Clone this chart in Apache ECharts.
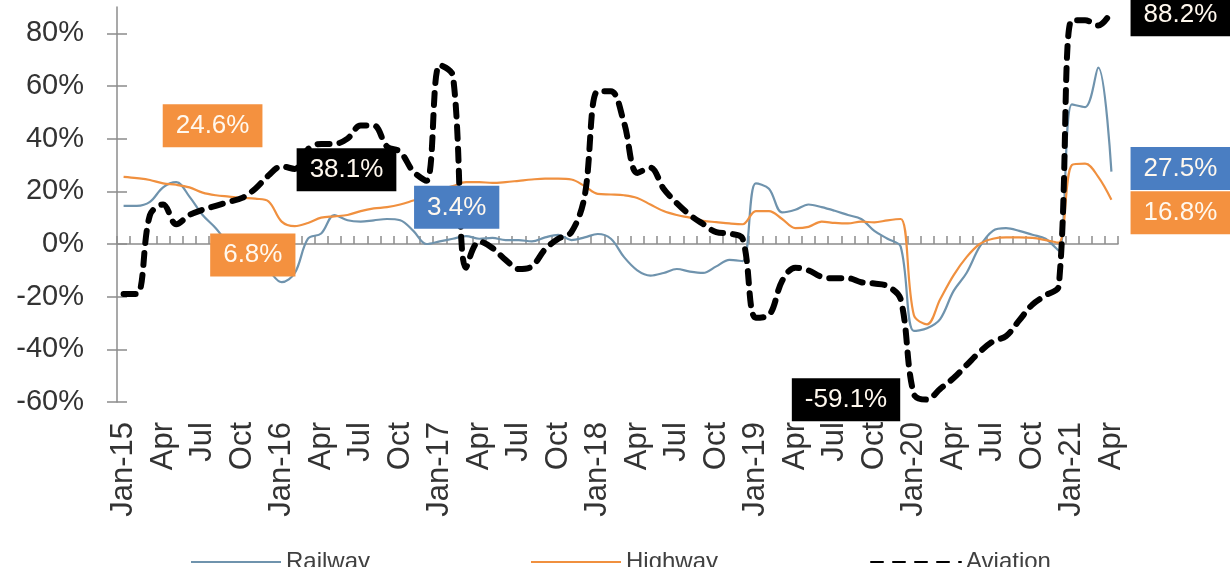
<!DOCTYPE html>
<html>
<head>
<meta charset="utf-8">
<script src="https://cdn.jsdelivr.net/npm/echarts@6/dist/echarts.min.js"></script>
<style>
  html, body { margin: 0; padding: 0; background: #fff; }
  #chart { width: 1230px; height: 567px; }
</style>
</head>
<body>
<div id="chart"></div>
<script>
const years = ['15', '16', '17', '18', '19', '20', '21']
const months = ['Jan', 'Feb', 'Mar', 'Apr', 'May', 'Jun', 'Jul', 'Aug', 'Sep', 'Oct', 'Nov', 'Dec']
const categories = []
years.forEach(y => months.forEach(m => categories.push(m + '-' + y)))
categories.length = 76 // Jan-15 .. Apr-21

const yTicks = [-60, -40, -20, 0, 20, 40, 60, 80]

const railway = [
  14.5, 14.5, 16, 21.5, 23.5, 18, 11, 6, 0, -3, -6, -10,
  -14.5, -11, 2, 4, 11, 9, 8.5, 9, 9.5, 9, 5, 0,
  1, 2, 3, 2, 2.3, 1.5, 1.5, 1, 2.5, 3.5, 1.5, 2.5,
  3.8, 2, -5, -10, -12, -11, -9.5, -10.5, -11, -8.5, -6, -6.5,
  23, 21, 12, 13, 15, 14, 12.6, 11, 9.5, 5, 2, -1,
  -33, -32, -28.5, -18, -11, -1, 5, 6, 5, 3.5, 2, -2.5,
  53, 52, 67, 27.5
]
const highway = [
  25.5, 25, 24.3, 23, 22.5, 21.5, 19.5, 18.5, 18, 17.5, 17.2, 16.2,
  8.5, 6.8, 8, 10, 10.5, 11, 12.5, 13.5, 14, 15, 16.5, 18,
  20.5, 22, 23.5, 23.5, 23.2, 23.5, 24, 24.5, 24.8, 24.8, 24.5, 22,
  19, 18.8, 18.5, 17.5, 15, 12.5, 11, 10, 8.8, 8.3, 7.8, 7.5,
  12.5, 12.5, 9.5, 6, 6.5, 8.5, 8, 7.8, 8.5, 8.2, 9, 9.5,
  -27, -30.5, -21, -12, -5, 0, 2, 2.5, 2.5, 2.3, 1.5, 0.5,
  30, 30.5, 25.5, 16.8
]
const aviation = [
  -19, -19, 11, 15, 7.5, 11, 13, 14.5, 16, 17.5, 21, 26,
  29.5, 28.5, 36, 38, 38, 40, 45, 45, 37, 35, 27.5, 24,
  68, 64, -9, 1, -1.5, -6, -9.5, -8.5, -2, 2, 4.5, 18,
  58, 58, 46, 27, 29, 21, 15.5, 11, 7.6, 4.5, 4, 2,
  -28, -27, -14, -9, -10, -12.5, -13, -13, -14.5, -15, -16, -21,
  -57, -59.1, -55, -51, -46, -41, -37, -35, -29, -23, -19.5, -16,
  85, 85, 83, 88.2
]

// callout boxes: [month index, text]
const railwayCallouts = [[24, '3.4%'], [75, '27.5%']]
const highwayCallouts = [[0, '24.6%'], [13, '6.8%'], [75, '16.8%']]
const aviationCallouts = [[17, '38.1%'], [61, '-59.1%'], [75, '88.2%']]

const FONT = 'Liberation Sans, Arial, sans-serif'
const offsets = {
  '3.4%': [17, -34], '27.5%': [69, -3],
  '24.6%': [89, -51], '6.8%': [-42, 29], '16.8%': [69, 13],
  '38.1%': [-1, 31], '-59.1%': [-81, 0], '88.2%': [69, 3]
}

function markers(list, values, bg) {
  return {
    symbol: 'circle',
    symbolSize: 1,
    itemStyle: { color: 'transparent' },
    silent: true,
    data: list.map(([i, text]) => ({
      coord: [categories[i], values[i]],
      label: {
        show: true,
        position: 'inside',
        formatter: text,
        offset: offsets[text],
        backgroundColor: bg,
        color: '#fff8ee',
        fontFamily: FONT,
        fontSize: 26,
        padding: [9, 13, 8, 13]
      }
    }))
  }
}

const chart = echarts.init(document.getElementById('chart'))

const legendBase = {
  top: 545,
  itemWidth: 90,
  itemHeight: 14,
  itemGap: 6,
  itemStyle: { opacity: 0 },
  textStyle: { fontFamily: FONT, fontSize: 24, color: '#404040' }
}

chart.setOption({
  animation: false,
  backgroundColor: '#fff',
  grid: { left: 117, right: 112, top: 7, height: 395 },
  legend: [
    Object.assign({ data: ['Railway'], left: 185 }, legendBase),
    Object.assign({ data: ['Highway'], left: 525 }, legendBase),
    Object.assign({ data: ['Aviation'], left: 865 }, legendBase)
  ],
  xAxis: [
    {
      type: 'category',
      data: categories,
      boundaryGap: true,
      axisLine: { onZero: true, lineStyle: { color: '#8c8c8c', width: 1.5 } },
      axisTick: { show: true, inside: true, length: 8, interval: 0, lineStyle: { color: '#8c8c8c', width: 1.5 } },
      axisLabel: { show: false }
    },
    {
      type: 'category',
      data: categories,
      position: 'bottom',
      boundaryGap: true,
      axisLine: { show: false, onZero: false },
      axisTick: { show: false },
      axisLabel: {
        interval: 2,
        rotate: 90,
        margin: 20,
        fontFamily: FONT,
        fontSize: 31,
        color: '#333',
        formatter: v => v.startsWith('Jan') ? v : v.slice(0, 3)
      }
    }
  ],
  yAxis: [
    {
      type: 'value',
      min: -60,
      max: 90,
      interval: 20,
      splitLine: { show: false },
      axisLine: { show: true, lineStyle: { color: '#8c8c8c', width: 1.5 } },
      axisTick: { show: true, length: 10, customValues: yTicks, lineStyle: { color: '#8c8c8c', width: 1.5 } },
      axisLabel: {
        customValues: yTicks,
        margin: 33,
        fontFamily: FONT,
        fontSize: 29,
        color: '#333',
        formatter: v => v + '%'
      }
    },
    {
      type: 'value',
      position: 'left',
      min: -60,
      max: 90,
      interval: 20,
      splitLine: { show: false },
      axisLine: { show: false },
      axisTick: { show: true, inside: true, length: 10, customValues: yTicks, lineStyle: { color: '#8c8c8c', width: 1.5 } },
      axisLabel: { show: false }
    }
  ],
  series: [
    {
      name: 'Railway',
      type: 'line',
      data: railway,
      symbol: 'none',
      smooth: 0.35,
      color: '#6f93ad',
      lineStyle: { width: 2.2, color: '#6f93ad' },
      markPoint: markers(railwayCallouts, railway, '#4a7ec2')
    },
    {
      name: 'Highway',
      type: 'line',
      data: highway,
      symbol: 'none',
      smooth: 0.35,
      color: '#f0903f',
      lineStyle: { width: 2.2, color: '#f0903f' },
      markPoint: markers(highwayCallouts, highway, '#f4913f')
    },
    {
      name: 'Aviation',
      type: 'line',
      data: aviation,
      symbol: 'none',
      smooth: 0.35,
      color: '#000',
      lineStyle: { width: 6, color: '#000', type: [12, 10], cap: 'round' },
      markPoint: markers(aviationCallouts, aviation, '#000')
    }
  ]
})
</script>
</body>
</html>
